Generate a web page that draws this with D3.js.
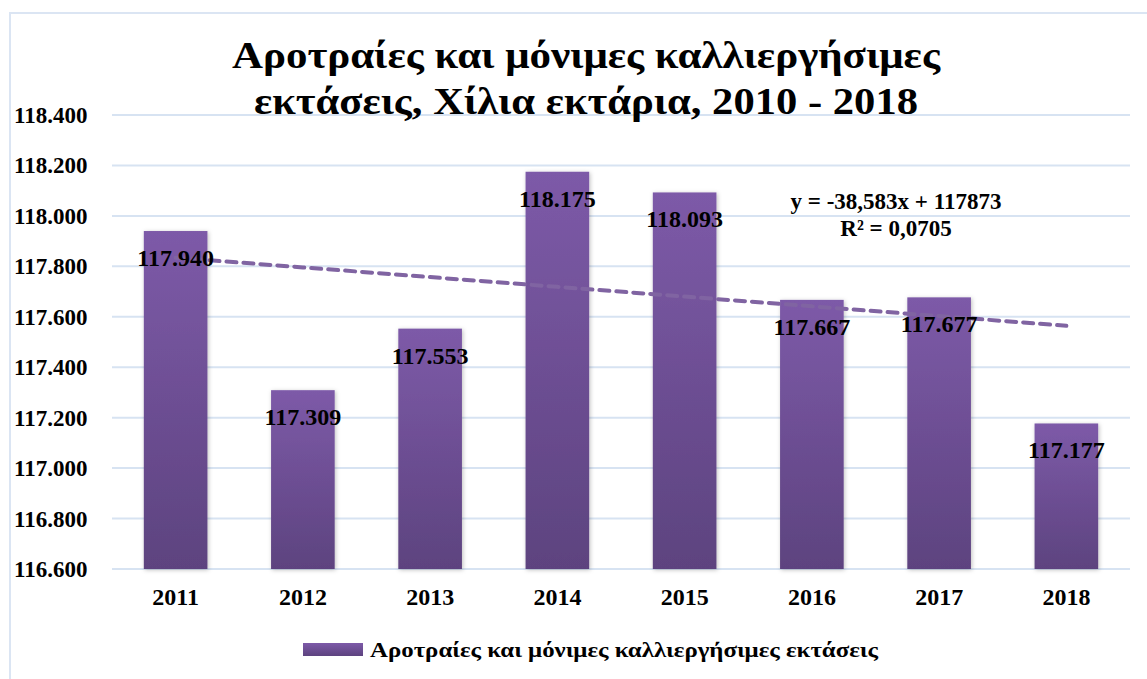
<!DOCTYPE html>
<html>
<head>
<meta charset="utf-8">
<script src="https://cdn.jsdelivr.net/npm/d3@7"></script>
<style>
  body { margin: 0; background: #fff; }
  text { font-family: "Liberation Serif", "Times New Roman", serif; font-weight: bold; fill: #000; }
</style>
</head>
<body>
<script>
'use strict'
var years = ["2011", "2012", "2013", "2014", "2015", "2016", "2017", "2018"];
var values = [117940, 117309, 117553, 118175, 118093, 117667, 117677, 117177];
var yTicks = [116600, 116800, 117000, 117200, 117400, 117600, 117800, 118000, 118200, 118400];
var titleLines = ["Αροτραίες και μόνιμες καλλιεργήσιμες", "εκτάσεις, Χίλια εκτάρια, 2010 - 2018"];
var seriesName = "Αροτραίες και μόνιμες καλλιεργήσιμες εκτάσεις";
var trendSlope = -38.583;
var trendIntercept = 117873;
var trendLabel = ["y = -38,583x + 117873", "R² = 0,0705"];

var W = 1147, H = 679;
var margin = {top: 115, right: 17, bottom: 110, left: 112};

var svg = d3.select("body").append("svg")
  .attr("width", W).attr("height", H);

var defs = svg.append("defs");
var grad = defs.append("linearGradient").attr("id", "barGrad")
  .attr("x1", 0).attr("y1", 0).attr("x2", 0).attr("y2", 1);
grad.append("stop").attr("offset", "0%").attr("stop-color", "#7d5aa8");
grad.append("stop").attr("offset", "100%").attr("stop-color", "#5d437f");
var shadow = defs.append("filter").attr("id", "shadow")
  .attr("x", "-20%").attr("y", "-5%").attr("width", "140%").attr("height", "110%");
shadow.append("feDropShadow").attr("dx", 1).attr("dy", 1).attr("stdDeviation", 2)
  .attr("flood-color", "#000").attr("flood-opacity", 0.25);

// chart border
svg.append("rect")
  .attr("x", 10).attr("y", 13).attr("width", W).attr("height", H)
  .attr("fill", "none").attr("stroke", "#dbe5f3").attr("stroke-width", 2);

var innerW = W - margin.left - margin.right;

var x = d3.scaleBand().domain(years).range([0, innerW]).paddingInner(0.5).paddingOuter(0.25);
var y = d3.scaleLinear().domain([116600, 118400]).range([569 - margin.top, 0]);

var fmt = function(d) { return d3.format(",.0f")(d).replace(",", "."); };

var g = svg.append("g").attr("transform", "translate(" + margin.left + "," + margin.top + ")");

// gridlines
g.append("g").selectAll("line").data(yTicks).enter().append("line")
  .attr("x1", 0).attr("x2", innerW)
  .attr("y1", function(d) { return y(d); }).attr("y2", function(d) { return y(d); })
  .attr("stroke", "#d7e3f2").attr("stroke-width", 2);

// y tick labels
svg.append("g").selectAll("text").data(yTicks).enter().append("text")
  .attr("x", 14)
  .attr("y", function(d) { return margin.top + y(d) + 8; })
  .style("font-size", "23px")
  .text(fmt);

// bars
g.append("g").selectAll("rect").data(values).enter().append("rect")
  .attr("x", function(d, i) { return x(years[i]); })
  .attr("width", x.bandwidth())
  .attr("y", function(d) { return y(d); })
  .attr("height", function(d) { return y(116600) - y(d); })
  .attr("fill", "url(#barGrad)")
  .attr("filter", "url(#shadow)");

// x labels
g.append("g").selectAll("text").data(years).enter().append("text")
  .attr("x", function(d) { return x(d) + x.bandwidth() / 2; })
  .attr("y", y(116600) + 36)
  .attr("text-anchor", "middle")
  .style("font-size", "24px")
  .text(function(d) { return d; });

// trendline
var trend = years.map(function(d, i) { return [i + 1, trendIntercept + trendSlope * (i + 1)]; });
g.append("path")
  .datum(trend)
  .attr("d", d3.line()
    .x(function(d) { return x(years[d[0] - 1]) + x.bandwidth() / 2; })
    .y(function(d) { return y(d[1]); }))
  .attr("fill", "none")
  .attr("stroke", "#8064a2")
  .attr("stroke-width", 4)
  .attr("stroke-dasharray", "10,7")
  .attr("stroke-linecap", "round");

// value labels
g.append("g").selectAll("text").data(values).enter().append("text")
  .attr("x", function(d, i) { return x(years[i]) + x.bandwidth() / 2; })
  .attr("y", function(d) { return y(d) + 35; })
  .attr("text-anchor", "middle")
  .style("font-size", "24px")
  .text(fmt);

// trend equation
svg.append("g").selectAll("text").data(trendLabel).enter().append("text")
  .attr("x", 896)
  .attr("y", function(d, i) { return 209 + i * 27; })
  .attr("text-anchor", "middle")
  .style("font-size", "23px")
  .text(function(d) { return d; });

// title
var titleLen = [708, 664];
svg.append("g").selectAll("text").data(titleLines).enter().append("text")
  .attr("x", 586)
  .attr("y", function(d, i) { return 68 + i * 46; })
  .attr("text-anchor", "middle")
  .attr("textLength", function(d, i) { return titleLen[i]; })
  .attr("lengthAdjust", "spacingAndGlyphs")
  .style("font-size", "37px")
  .text(function(d) { return d; });

// legend
svg.append("rect")
  .attr("x", 303).attr("y", 643).attr("width", 60).attr("height", 13)
  .attr("fill", "url(#barGrad)");
svg.append("text")
  .attr("x", 370).attr("y", 657)
  .attr("textLength", 508)
  .attr("lengthAdjust", "spacingAndGlyphs")
  .style("font-size", "22px")
  .text(seriesName);
</script>
</body>
</html>
